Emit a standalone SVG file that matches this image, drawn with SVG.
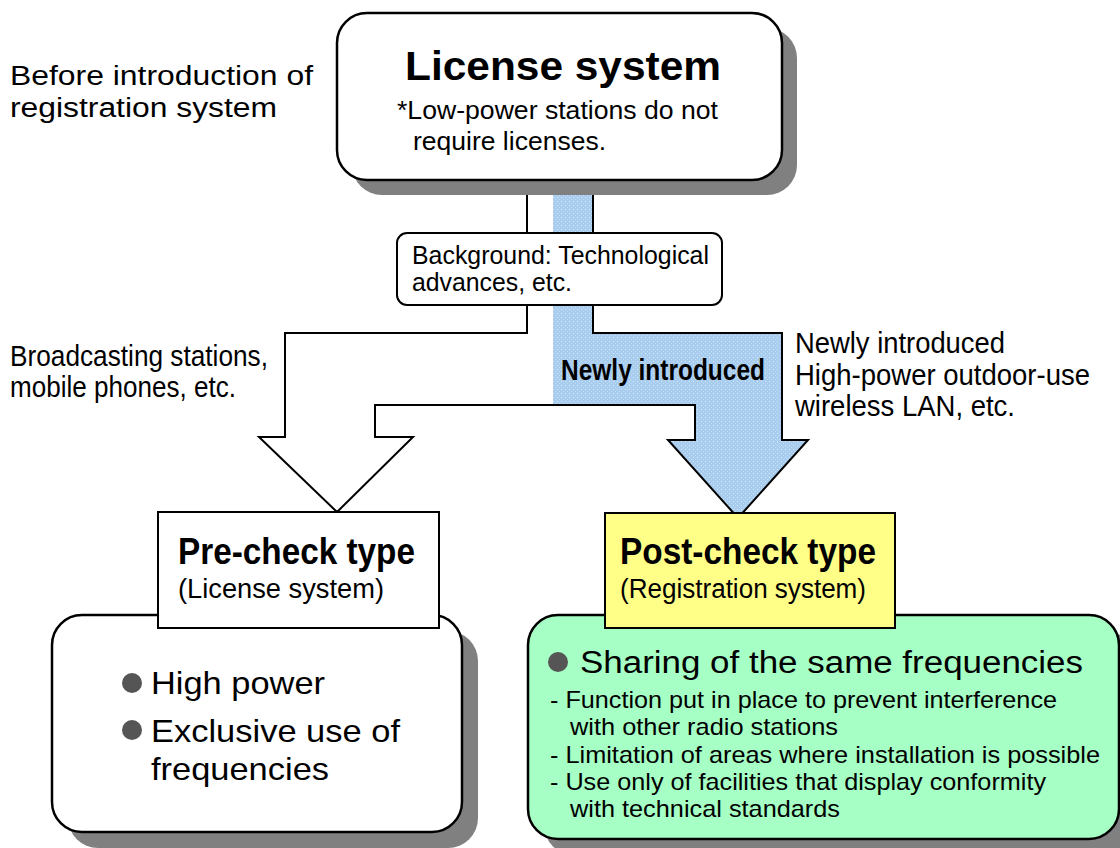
<svg xmlns="http://www.w3.org/2000/svg" width="1120" height="848" viewBox="0 0 1120 848">
<defs>
<pattern id="dots" width="4" height="4" patternUnits="userSpaceOnUse">
<rect width="4" height="4" fill="#A9CDEE"/>
<rect x="1" y="1" width="1" height="1" fill="#D6E8F8"/>
<rect x="3" y="3" width="1" height="1" fill="#C2DCF4"/>
</pattern>
<style>
text{font-family:"Liberation Sans",Arial,sans-serif;fill:#000}
.ln{fill:none;stroke:#000;stroke-width:2;stroke-linejoin:miter}
.bx{stroke:#000;stroke-width:2.5}
.sh{fill:#808080}
.b{font-weight:bold}
.dot{fill:#555}
</style>
</defs>
<rect width="1120" height="848" fill="#fff"/>

<g id="connectors">
<polygon points="527,180 527,333 285,333 285,437 259,437 337,512 413,437 375,437 375,405 553,405 553,180" fill="#fff"/>
<polygon points="553,180 593,180 593,333 782,333 782,440 808,440 738,518 668,440 695,440 695,405 553,405" fill="url(#dots)"/>
<polyline class="ln" points="527,180 527,333 285,333 285,437 259,437 337,512 413,437 375,437 375,405 695,405 695,440 668,440 738,518 808,440 782,440 782,333 593,333 593,180"/>
<text x="561" y="380" class="b" font-size="29" textLength="204" lengthAdjust="spacingAndGlyphs">Newly introduced</text>
</g>

<g id="license">
<rect class="sh" x="352" y="28" width="445" height="167" rx="30"/>
<rect class="bx" x="337" y="13" width="445" height="167" rx="30" fill="#fff"/>
<text x="405" y="80" class="b" font-size="41" textLength="316" lengthAdjust="spacingAndGlyphs">License system</text>
<text x="397" y="119" font-size="25" textLength="321" lengthAdjust="spacingAndGlyphs">*Low-power stations do not</text>
<text x="413" y="150" font-size="25" textLength="193" lengthAdjust="spacingAndGlyphs">require licenses.</text>
</g>

<g id="before-label">
<text x="10" y="85" font-size="27" textLength="303" lengthAdjust="spacingAndGlyphs">Before introduction of</text>
<text x="10" y="117" font-size="27" textLength="267" lengthAdjust="spacingAndGlyphs">registration system</text>
</g>

<g id="background">
<rect x="397" y="233" width="325" height="72" rx="10" fill="#fff" stroke="#000" stroke-width="2"/>
<text x="412" y="264" font-size="25" textLength="297" lengthAdjust="spacingAndGlyphs">Background: Technological</text>
<text x="412" y="291" font-size="25" textLength="160" lengthAdjust="spacingAndGlyphs">advances, etc.</text>
</g>

<g id="broadcast-label">
<text x="10" y="366" font-size="29" textLength="258" lengthAdjust="spacingAndGlyphs">Broadcasting stations,</text>
<text x="10" y="397" font-size="29" textLength="226" lengthAdjust="spacingAndGlyphs">mobile phones, etc.</text>
</g>

<g id="new-label">
<text x="795" y="353" font-size="29" textLength="210" lengthAdjust="spacingAndGlyphs">Newly introduced</text>
<text x="795" y="385" font-size="29" textLength="295" lengthAdjust="spacingAndGlyphs">High-power outdoor-use</text>
<text x="795" y="416" font-size="29" textLength="220" lengthAdjust="spacingAndGlyphs">wireless LAN, etc.</text>
</g>

<g id="precheck-detail">
<rect class="sh" x="68" y="631" width="410" height="217" rx="30"/>
<rect class="bx" x="52" y="615" width="410" height="217" rx="30" fill="#fff"/>
<circle class="dot" cx="132" cy="683" r="10"/>
<text x="151" y="694" font-size="32" textLength="174" lengthAdjust="spacingAndGlyphs">High power</text>
<circle class="dot" cx="132" cy="730" r="10"/>
<text x="151" y="742" font-size="32" textLength="249" lengthAdjust="spacingAndGlyphs">Exclusive use of</text>
<text x="151" y="780" font-size="32" textLength="178" lengthAdjust="spacingAndGlyphs">frequencies</text>
</g>

<g id="precheck">
<rect x="158" y="512" width="281" height="116" fill="#fff" stroke="#000" stroke-width="2"/>
<text x="178" y="564" class="b" font-size="37" textLength="237" lengthAdjust="spacingAndGlyphs">Pre-check type</text>
<text x="178" y="598" font-size="27" textLength="206" lengthAdjust="spacingAndGlyphs">(License system)</text>
</g>

<g id="postcheck-detail">
<rect class="sh" x="544" y="631" width="591" height="224" rx="30"/>
<rect class="bx" x="528" y="615" width="591" height="224" rx="30" fill="#A6FFC4"/>
<circle class="dot" cx="558" cy="662" r="10"/>
<text x="580" y="673" font-size="31" textLength="503" lengthAdjust="spacingAndGlyphs">Sharing of the same frequencies</text>
<text x="550" y="708" font-size="24" textLength="507" lengthAdjust="spacingAndGlyphs">- Function put in place to prevent interference</text>
<text x="570" y="735" font-size="24" textLength="268" lengthAdjust="spacingAndGlyphs">with other radio stations</text>
<text x="550" y="763" font-size="24" textLength="550" lengthAdjust="spacingAndGlyphs">- Limitation of areas where installation is possible</text>
<text x="550" y="790" font-size="24" textLength="496" lengthAdjust="spacingAndGlyphs">- Use only of facilities that display conformity</text>
<text x="570" y="817" font-size="24" textLength="270" lengthAdjust="spacingAndGlyphs">with technical standards</text>
</g>

<g id="postcheck">
<rect x="605" y="513" width="290" height="115" fill="#FFFF88" stroke="#000" stroke-width="2"/>
<text x="620" y="564" class="b" font-size="37" textLength="256" lengthAdjust="spacingAndGlyphs">Post-check type</text>
<text x="620" y="598" font-size="27" textLength="246" lengthAdjust="spacingAndGlyphs">(Registration system)</text>
</g>
</svg>
